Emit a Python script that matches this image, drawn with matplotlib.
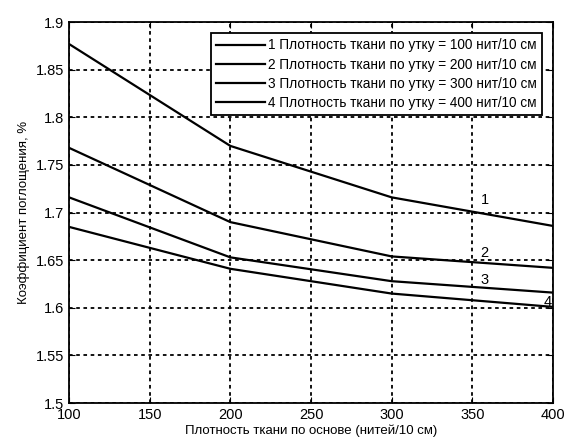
import matplotlib
matplotlib.use("Agg")
import matplotlib.pyplot as plt

plt.rcParams['font.family'] = ['Liberation Sans', 'DejaVu Sans']

# warp density (threads/10 cm)
warp = [100, 200, 300, 400]
# absorption coefficient for each weft density
k_100 = [1.877, 1.770, 1.716, 1.686]
k_200 = [1.768, 1.690, 1.654, 1.642]
k_300 = [1.716, 1.653, 1.628, 1.616]
k_400 = [1.685, 1.641, 1.615, 1.601]

labels = ['1 Плотность ткани по утку = 100 нит/10 см',
          '2 Плотность ткани по утку = 200 нит/10 см',
          '3 Плотность ткани по утку = 300 нит/10 см',
          '4 Плотность ткани по утку = 400 нит/10 см']

fig = plt.figure(figsize=(5.66, 4.42), dpi=100)
ax = fig.add_axes([0.122, 0.088, 0.855, 0.862])

series = [k_100, k_200, k_300, k_400]
for s, lab in zip(series, labels):
    ax.plot(warp, s, color='black', lw=1.6, label=lab)

# curve numbers
ax.text(355, 1.713, '1', fontsize=10.5, va='center')
ax.text(355, 1.658, '2', fontsize=10.5, va='center')
ax.text(355, 1.629, '3', fontsize=10.5, va='center')
ax.text(394, 1.606, '4', fontsize=10.5, va='center')

ax.set_xlim(100, 400)
ax.set_ylim(1.5, 1.9)
ax.set_xticks([100, 150, 200, 250, 300, 350, 400])
ax.set_yticks([1.5, 1.55, 1.6, 1.65, 1.7, 1.75, 1.8, 1.85, 1.9])
ax.set_yticklabels(['1.5', '1.55', '1.6', '1.65', '1.7', '1.75', '1.8', '1.85', '1.9'])
ax.tick_params(direction='in', labelsize=10.5, length=4, top=True, right=True)
ax.grid(True, color='black', linestyle=(0, (2, 2)), lw=1.3)
for sp in ax.spines.values():
    sp.set_linewidth(1.3)

ax.set_xlabel('Плотность ткани по основе (нитей/10 см)', fontsize=9.5, labelpad=2)
ax.set_ylabel('Коэффициент поглощения, %', fontsize=9.5, labelpad=4)

leg = ax.legend(loc='upper right', fontsize=9.8, frameon=True, fancybox=False,
                edgecolor='black', framealpha=1, handlelength=3.6,
                handletextpad=0.2, borderaxespad=0.8, labelspacing=0.38)
leg.get_frame().set_linewidth(1.3)

plt.savefig('out.png', dpi=100)
